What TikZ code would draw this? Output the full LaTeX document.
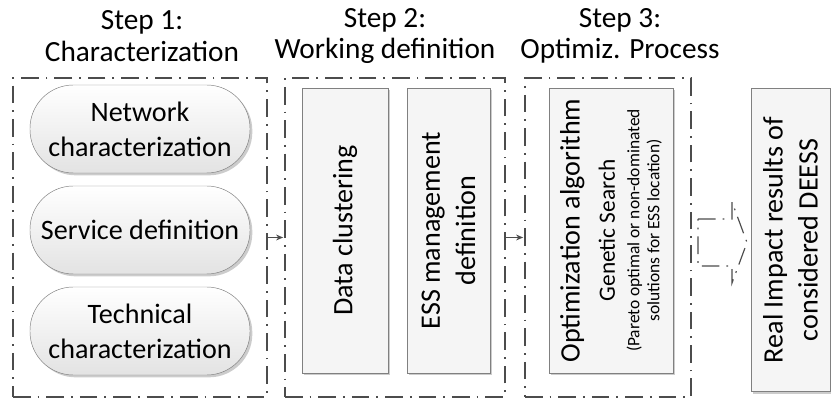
\documentclass[tikz,border=0pt]{standalone}
\usepackage{fontspec}
\setmainfont{Carlito}
\newfontfamily\searchfont{Carlito}[Scale=0.83]
\newfontfamily\notefont{Carlito}[Scale=0.62]
\usetikzlibrary{shadows,arrows.meta}

\tikzset{
  stage/.style={draw=black!70, line width=1.2pt, dash pattern=on 15pt off 6pt on 1.5pt off 6pt},
  title/.style={align=center, font=\fontsize{25}{27}\selectfont},
  pill/.style={draw=black!50, rounded corners=1.3cm, minimum width=6.6cm, minimum height=2.64cm,
    top color=white, bottom color=black!11, align=center, font=\fontsize{24}{30}\selectfont,
    drop shadow={shadow xshift=0.07cm, shadow yshift=-0.07cm, fill=black!40, opacity=0.5}},
  bar/.style={draw=black!50, fill=black!4, rotate=90, minimum width=8.55cm, align=center,
    font=\fontsize{24}{30}\selectfont,
    drop shadow={shadow xshift=0.07cm, shadow yshift=-0.07cm, fill=black!40, opacity=0.5}},
  link/.style={-{Stealth[length=6pt, width=5pt]}, draw=black!70, line width=0.8pt, shorten >=1pt}
}

\begin{document}
\begin{tikzpicture}[x=0.03cm, y=-0.03cm]
\useasboundingbox (0,0) rectangle (831,400);

% the three steps
\node[name=step1, stage, minimum width=7.62cm, minimum height=9.57cm] at (140,237.5) {};
\node[name=step2, stage, minimum width=6.6cm, minimum height=9.57cm] at (395,237.5) {};
\node[name=step3, stage, minimum width=4.98cm, minimum height=9.57cm] at (608,237.5) {};

\node[name=t1, title] at (142,36) {Step 1:\\Characterization};
\node[name=t2, title] at (385,36) {Step 2:\\Working definition};
\node[name=t3, title] at (620,36) {Step 3:\\Optimiz. Process};

% step 1
\node[name=net, pill] at (140,129) {Network\\characterization};
\node[name=serv, pill] at (140,230) {Service definition};
\node[name=tech, pill] at (140,331) {Technical\\characterization};

% step 2
\node[name=clust, bar, minimum height=2.58cm] at (345,230.5) {Data clustering};
\node[name=ess, bar, minimum height=2.49cm] at (448.5,230.5) {ESS management\\definition};

% step 3
\node[name=opt, bar, minimum height=3.72cm] at (611,230.5)
  {Optimization algorithm\\
   \searchfont Genetic Search\\[-9pt]
   \notefont (Pareto optimal or non-dominated\\[-13pt]
   \notefont solutions for ESS location)};

\node[name=real, bar, minimum width=9.09cm, minimum height=2.37cm] at (790.5,240)
  {Real Impact results of\\considered DEESS};

\draw[link] (step1.east) -- (step2.west);
\draw[link] (step2.east) -- (step3.west);

% block arrow to the results
\draw[stage, line width=1pt] (698,219) -- (732,219) -- (732,202) -- (747,242.5)
  -- (732,283) -- (732,266) -- (698,266) -- cycle;

\end{tikzpicture}
\end{document}
